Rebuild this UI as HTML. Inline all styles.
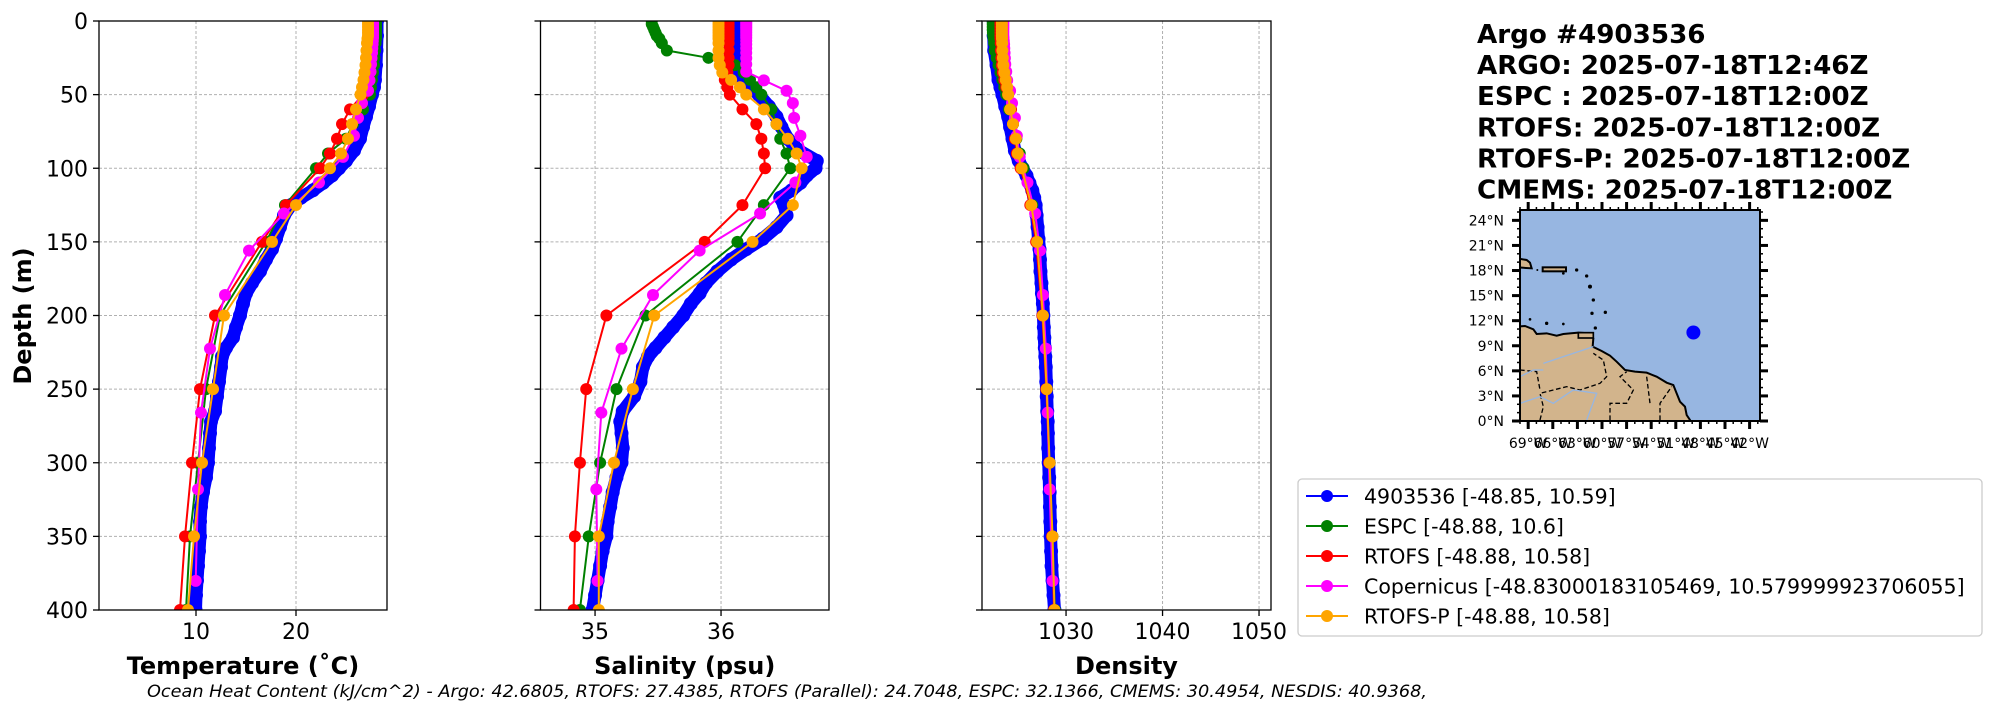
<!DOCTYPE html>
<html><head><meta charset="utf-8"><title>Argo profile comparison</title>
<style>
html,body{margin:0;padding:0;background:#fff;}
svg{display:block;font-family:"DejaVu Sans","Liberation Sans",sans-serif;}
</style></head>
<body>
<svg id="fig" xmlns="http://www.w3.org/2000/svg" width="1995" height="712" viewBox="0 0 1995 712">
<rect x="0" y="0" width="1995" height="712" fill="#fff"/>
<g>
  <defs><clipPath id="mapclip"><rect x="1520" y="210" width="240" height="211"/></clipPath></defs>
  <rect x="1520" y="210" width="240" height="211" fill="#97b6e1"/>
  <g clip-path="url(#mapclip)">
  <g transform="translate(1300,190) scale(0.33333)">
    <polygon points="650,410 675,408 700,418 710,432 740,430 770,437 790,432 810,430 835,428 870,430 880,445 878,470 905,483 930,497 950,515 975,540 1005,545 1040,548 1070,560 1100,578 1120,585 1130,610 1140,635 1155,650 1160,675 1170,690 1175,700 650,700" fill="#d2b48c" stroke="#000" stroke-width="6"/>
    <polygon points="650,205 680,210 690,218 695,235 650,232" fill="#d2b48c" stroke="#000" stroke-width="6"/>
    <rect x="728" y="232" width="70" height="12" fill="#d2b48c" stroke="#000" stroke-width="6"/>
    <rect x="835" y="428" width="45" height="16" fill="#d2b48c" stroke="#000" stroke-width="5"/>
    <g fill="#000">
      <circle cx="830" cy="240" r="5"/><circle cx="860" cy="258" r="5"/><circle cx="870" cy="290" r="6"/><circle cx="880" cy="330" r="5"/><circle cx="876" cy="370" r="5"/><circle cx="886" cy="414" r="5"/><circle cx="916" cy="367" r="5"/><circle cx="690" cy="388" r="4"/><circle cx="740" cy="400" r="5"/><circle cx="790" cy="402" r="4"/><circle cx="712" cy="240" r="3"/><circle cx="790" cy="250" r="4"/>
    </g>
    <g fill="none" stroke="#000" stroke-width="4" stroke-dasharray="14,8">
      <polyline points="720,690 730,650 720,610 760,600 800,590 840,600 900,580 920,560 910,510 880,490"/>
      <polyline points="660,540 710,545 720,600"/>
      <polyline points="930,690 930,640 980,640 1000,600 960,560 980,545"/>
      <polyline points="1080,690 1080,640 1115,590"/>
      <polyline points="1040,560 1050,640"/>
    </g>
    <g fill="none" stroke="#97b6e1" stroke-width="4">
      <polyline points="660,640 720,620 760,640 820,600 890,610 860,690"/>
      <polyline points="730,520 790,500 850,480 880,470"/>
      <polyline points="660,560 700,540 730,540"/>
    </g>
  </g>
  </g>
  <rect x="1520" y="210" width="240" height="211" fill="none" stroke="#000" stroke-width="2"/>
  <g id="mapticks"></g>
  <circle cx="1693.4" cy="332.5" r="7" fill="#0000ff"/>
</g>
</svg>
<script>
// ---------- data ----------
const modelDepth = [0,2,4,6,8,10,12,15,20,25,30,35,40,45,50,60,70,80,90,100,125,150,200,250,300,350,400];
const copDepth = [0.5,1.5,2.6,3.8,5.1,6.4,7.9,9.6,11.4,13.5,15.8,18.5,21.6,25.2,29.4,34.4,40.3,47.4,55.8,65.8,77.9,92.3,109.7,130.7,155.9,186.1,222.5,266.0,318.1,380.2];
const argoDepth = [0,10,20,30,40,45,50,58,65,72,80,88,95,100,105,110,115,120,125,132,140,148,155,162,170,178,185,192,200,208,215,222,228,235,245,255,265,272,280,290,300,310,320,330,340,350,360,370,380,390,400];

const argoTemp = [28.1,28.1,28.05,28.0,27.9,27.8,27.6,27.3,27.0,26.7,26.4,25.8,25.0,24.3,23.6,22.7,21.7,20.5,19.5,18.8,18.4,18.0,17.6,17.0,16.4,15.6,15.0,14.7,14.4,14.0,13.7,13.0,12.6,12.5,12.3,12.1,11.9,11.5,11.4,11.3,11.2,11.0,10.7,10.5,10.4,10.4,10.3,10.2,10.1,10.0,9.95];
const argoSal = [36.11,36.11,36.11,36.11,36.15,36.23,36.30,36.38,36.44,36.48,36.53,36.62,36.76,36.75,36.68,36.63,36.56,36.47,36.50,36.52,36.44,36.33,36.20,36.08,35.97,35.88,35.83,35.76,35.70,35.62,35.55,35.48,35.42,35.38,35.36,35.31,35.22,35.20,35.21,35.22,35.21,35.17,35.14,35.12,35.10,35.09,35.06,35.04,35.02,35.0,34.98];
const argoDens = [1022.5,1022.5,1022.55,1022.8,1023.0,1023.2,1023.4,1023.7,1024.0,1024.2,1024.45,1024.7,1025.1,1025.5,1025.9,1026.2,1026.5,1026.7,1026.85,1026.95,1027.05,1027.15,1027.25,1027.3,1027.35,1027.45,1027.5,1027.6,1027.65,1027.7,1027.75,1027.8,1027.85,1027.9,1027.95,1028.0,1028.05,1028.1,1028.12,1028.15,1028.2,1028.25,1028.3,1028.33,1028.37,1028.4,1028.45,1028.5,1028.6,1028.7,1028.8];

const espcTemp = [28.0,28.0,28.0,28.0,28.0,28.0,28.0,27.95,27.9,27.85,27.8,27.7,27.6,27.5,27.4,26.7,25.7,25.0,23.2,22.0,18.9,17.0,12.4,11.0,10.2,9.4,9.0];
const rtofsTemp = [27.5,27.5,27.5,27.5,27.5,27.5,27.5,27.45,27.4,27.35,27.3,27.2,27.1,26.9,26.7,25.4,24.6,24.1,23.4,22.4,19.0,16.6,11.9,10.4,9.6,8.9,8.4];
const copTemp = [27.7,27.7,27.7,27.7,27.7,27.7,27.7,27.7,27.7,27.68,27.66,27.63,27.6,27.55,27.5,27.45,27.35,27.2,26.6,26.2,25.8,24.7,22.3,18.8,15.3,12.9,11.4,10.5,10.2,9.97];
const rtofspTemp = [27.2,27.2,27.2,27.2,27.2,27.2,27.15,27.1,27.05,27.0,26.95,26.85,26.75,26.6,26.45,26.0,25.6,25.2,24.5,23.4,20.0,17.6,12.8,11.7,10.6,9.8,9.2];

const espcSal = [35.45,35.45,35.46,35.47,35.48,35.49,35.51,35.53,35.57,35.90,36.11,36.18,36.23,36.28,36.32,36.40,36.44,36.47,36.52,36.55,36.34,36.13,35.40,35.17,35.04,34.95,34.88];
const rtofsSal = [36.06,36.06,36.06,36.06,36.06,36.06,36.06,36.06,36.06,36.06,36.06,36.05,36.03,36.05,36.07,36.17,36.28,36.32,36.34,36.35,36.17,35.87,35.09,34.93,34.88,34.84,34.83];
const copSal = [36.20,36.20,36.20,36.20,36.20,36.20,36.20,36.20,36.20,36.20,36.20,36.20,36.20,36.20,36.20,36.20,36.34,36.52,36.57,36.58,36.63,36.68,36.59,36.31,35.83,35.46,35.21,35.05,35.01,35.02];
const rtofspSal = [35.98,35.98,35.98,35.98,35.98,35.98,35.98,35.98,35.98,35.98,35.99,36.01,36.08,36.15,36.20,36.34,36.44,36.53,36.60,36.64,36.57,36.25,35.47,35.30,35.15,35.03,35.03];

const espcDens = [1022.4,1022.4,1022.4,1022.4,1022.42,1022.45,1022.5,1022.55,1022.6,1022.8,1023.0,1023.2,1023.4,1023.6,1023.8,1024.1,1024.5,1024.85,1025.2,1025.6,1026.5,1027.0,1027.6,1028.0,1028.3,1028.6,1028.85];
const rtofsDens = [1023.2,1023.2,1023.2,1023.2,1023.2,1023.2,1023.21,1023.23,1023.25,1023.3,1023.35,1023.45,1023.6,1023.8,1024.0,1024.3,1024.5,1024.7,1024.9,1025.3,1026.3,1026.9,1027.55,1027.95,1028.25,1028.55,1028.75];
const copDens = [1023.5,1023.5,1023.5,1023.5,1023.5,1023.5,1023.5,1023.5,1023.52,1023.55,1023.58,1023.6,1023.63,1023.66,1023.7,1023.8,1023.9,1024.2,1024.4,1024.7,1024.9,1025.2,1026.0,1026.8,1027.3,1027.6,1027.9,1028.1,1028.3,1028.6];
const rtofspDens = [1023.35,1023.35,1023.35,1023.35,1023.35,1023.35,1023.36,1023.38,1023.4,1023.45,1023.5,1023.6,1023.75,1023.9,1024.0,1024.2,1024.5,1024.8,1025.0,1025.4,1026.4,1027.0,1027.6,1028.0,1028.3,1028.6,1028.8];

const depthTicks = [0,50,100,150,200,250,300,350,400];
const tempTicks = [10,20];
const salTicks = [35,36];
const densTicks = [1030,1040,1050];
const seriesNames = ["4903536 [-48.85, 10.59]","ESPC [-48.88, 10.6]","RTOFS [-48.88, 10.58]","Copernicus [-48.83000183105469, 10.579999923706055]","RTOFS-P [-48.88, 10.58]"];
const seriesColors = ["#0000ff","#008000","#ff0000","#ff00ff","#ffa500"];
const latTicks = [0,3,6,9,12,15,18,21,24];
const lonTicks = [-69,-66,-63,-60,-57,-54,-51,-48,-45,-42];

// ---------- helpers ----------
const NS = "http://www.w3.org/2000/svg";
const svg = document.getElementById("fig");
function mk(tag, attrs, parent){
  const e = document.createElementNS(NS, tag);
  for (const k in attrs) e.setAttribute(k, attrs[k]);
  (parent || svg).appendChild(e);
  return e;
}
const Y0 = 21, Y1 = 610;
function yScale(d){ return Y0 + d * (Y1 - Y0) / 400; }

const panels = [
  {key:"temperature", x0:99, x1:387, vmin:0.3, vmax:29.1, ticks:tempTicks, label:"Temperature (˚C)", yLabels:true,
   series:[[argoDepth,argoTemp],[modelDepth,espcTemp],[modelDepth,rtofsTemp],[copDepth,copTemp],[modelDepth,rtofspTemp]]},
  {key:"salinity", x0:540.5, x1:829, vmin:34.567, vmax:36.857, ticks:salTicks, label:"Salinity (psu)", yLabels:false,
   series:[[argoDepth,argoSal],[modelDepth,espcSal],[modelDepth,rtofsSal],[copDepth,copSal],[modelDepth,rtofspSal]]},
  {key:"density", x0:982, x1:1271, vmin:1021.29, vmax:1051.24, ticks:densTicks, label:"Density", yLabels:false,
   series:[[argoDepth,argoDens],[modelDepth,espcDens],[modelDepth,rtofsDens],[copDepth,copDens],[modelDepth,rtofspDens]]}
];

const defs = mk("defs", {});
panels.forEach(function(p){
  const xs = function(v){ return p.x0 + (v - p.vmin) * (p.x1 - p.x0) / (p.vmax - p.vmin); };
  const cp = mk("clipPath", {id:"clip-"+p.key}, defs);
  mk("rect", {x:p.x0, y:Y0, width:p.x1-p.x0, height:Y1-Y0}, cp);
  const g = mk("g", {});
  
  
  depthTicks.forEach(function(d){
    const gl = mk("line", {x1:p.x0, x2:p.x1, y1:yScale(d), y2:yScale(d), stroke:"#b0b0b0", "stroke-width":1, "stroke-dasharray":"3,2"}, g);
    
    
    const tk = mk("line", {x1:p.x0-6, x2:p.x0, y1:yScale(d), y2:yScale(d), stroke:"#000", "stroke-width":1.3}, g);
    
    
    if (p.yLabels){
      const tl = mk("text", {x:p.x0-11, y:yScale(d)+8, "text-anchor":"end", "font-size":"22px", fill:"#000"}, g);
      tl.textContent = String(d);
      
      
    }
  });
  p.ticks.forEach(function(t){
    const gl = mk("line", {x1:xs(t), x2:xs(t), y1:Y0, y2:Y1, stroke:"#b0b0b0", "stroke-width":1, "stroke-dasharray":"3,2"}, g);
    
    
    const tk = mk("line", {x1:xs(t), x2:xs(t), y1:Y1, y2:Y1+6, stroke:"#000", "stroke-width":1.3}, g);
    
    
    const tl = mk("text", {x:xs(t), y:639, "text-anchor":"middle", "font-size":"22px", fill:"#000"}, g);
    tl.textContent = String(t);
    
    
  });
  const sg = mk("g", {"clip-path":"url(#clip-"+p.key+")"}, g);
  
  
  p.series.forEach(function(s, i){
    const depths = s[0], vals = s[1];
    const pts = vals.map(function(v, j){ return xs(v).toFixed(1) + "," + yScale(depths[j]).toFixed(1); }).join(" ");
    const isArgo = (i === 0);
    const line = mk("polyline", {points:pts, fill:"none", stroke:seriesColors[i], "stroke-width": isArgo ? 13 : 2, "stroke-linejoin":"round", "stroke-linecap":"round"}, sg);
    
    
    vals.forEach(function(v, j){
      const c = mk("circle", {cx:xs(v), cy:yScale(depths[j]), r: isArgo ? 7 : 6, fill:seriesColors[i]}, sg);
      
      
    });
  });
  const fr = mk("rect", {x:p.x0, y:Y0, width:p.x1-p.x0, height:Y1-Y0, fill:"none", stroke:"#000", "stroke-width":1.3}, g);
  
  
  const al = mk("text", {x:(p.x0+p.x1)/2, y:674, "text-anchor":"middle", "font-size":"24px", "font-weight":"bold", fill:"#000"}, g);
  al.textContent = p.label;
  
  
});

const yt = mk("text", {x:0, y:0, transform:"translate(31,316) rotate(-90)", "text-anchor":"middle", "font-size":"24px", "font-weight":"bold", fill:"#000"});
yt.textContent = "Depth (m)";



const titleLines = ["Argo #4903536","ARGO: 2025-07-18T12:46Z","ESPC : 2025-07-18T12:00Z","RTOFS: 2025-07-18T12:00Z","RTOFS-P: 2025-07-18T12:00Z","CMEMS: 2025-07-18T12:00Z"];
titleLines.forEach(function(t, i){
  const tt = mk("text", {x:1477, y:43 + i*31.1, "font-size":"26.2px", "font-weight":"bold", fill:"#000"});
  tt.textContent = t;
  
  
});

const lg = mk("g", {});


const lb = mk("rect", {x:1298, y:479, width:684, height:157, rx:4, fill:"#fff", stroke:"#cccccc", "stroke-width":1.3}, lg);


seriesNames.forEach(function(n, i){
  const y = 496 + i*30;
  const ll = mk("line", {x1:1306, x2:1348, y1:y, y2:y, stroke:seriesColors[i], "stroke-width":2}, lg);
  
  
  const lc = mk("circle", {cx:1327, cy:y, r:6, fill:seriesColors[i]}, lg);
  
  
  const lt = mk("text", {x:1364, y:y+7.5, "font-size":"20.5px", fill:"#000"}, lg);
  lt.textContent = n;
  
  
});

const ft = mk("text", {x:147, y:697, "font-size":"16.5px", "font-style":"italic", fill:"#000", textLength:1280, lengthAdjust:"spacingAndGlyphs"});
ft.textContent = "Ocean Heat Content (kJ/cm^2) - Argo: 42.6805,  RTOFS: 27.4385,  RTOFS (Parallel): 24.7048,  ESPC: 32.1366,  CMEMS: 30.4954,  NESDIS: 40.9368,";



const mt = document.getElementById("mapticks");
function latY(l){ return 421 - l * 8.36; }
function lonX(l){ return 1520 + (l + 70) * 8.2; }
for (let l = 0; l <= 25; l++){
  const major = (l % 3 === 0);
  const len = major ? 8 : 3;
  const m1 = mk("line", {x1:1520-len, x2:1520, y1:latY(l), y2:latY(l), stroke:"#000", "stroke-width": major ? 3 : 1.5}, mt);
  
  
  const m2 = mk("line", {x1:1760, x2:1760+len, y1:latY(l), y2:latY(l), stroke:"#000", "stroke-width": major ? 3 : 1.5}, mt);
  
  
}
for (let l = -70; l <= -41; l++){
  const major = ((l + 69) % 3 === 0);
  const len = major ? 8 : 3;
  const m1 = mk("line", {x1:lonX(l), x2:lonX(l), y1:421, y2:421+len, stroke:"#000", "stroke-width": major ? 3 : 1.5}, mt);
  
  
  const m2 = mk("line", {x1:lonX(l), x2:lonX(l), y1:210-len, y2:210, stroke:"#000", "stroke-width": major ? 3 : 1.5}, mt);
  
  
}
latTicks.forEach(function(l){
  const t = mk("text", {x:1504, y:latY(l)+5, "text-anchor":"end", "font-size":"14px", fill:"#000"}, mt);
  t.textContent = l + "°N";
  
  
});
lonTicks.forEach(function(l){
  const t = mk("text", {x:lonX(l), y:448, "text-anchor":"middle", "font-size":"14px", fill:"#000"}, mt);
  t.textContent = (-l) + "°W";
  
  
});
</script>
</body></html>
